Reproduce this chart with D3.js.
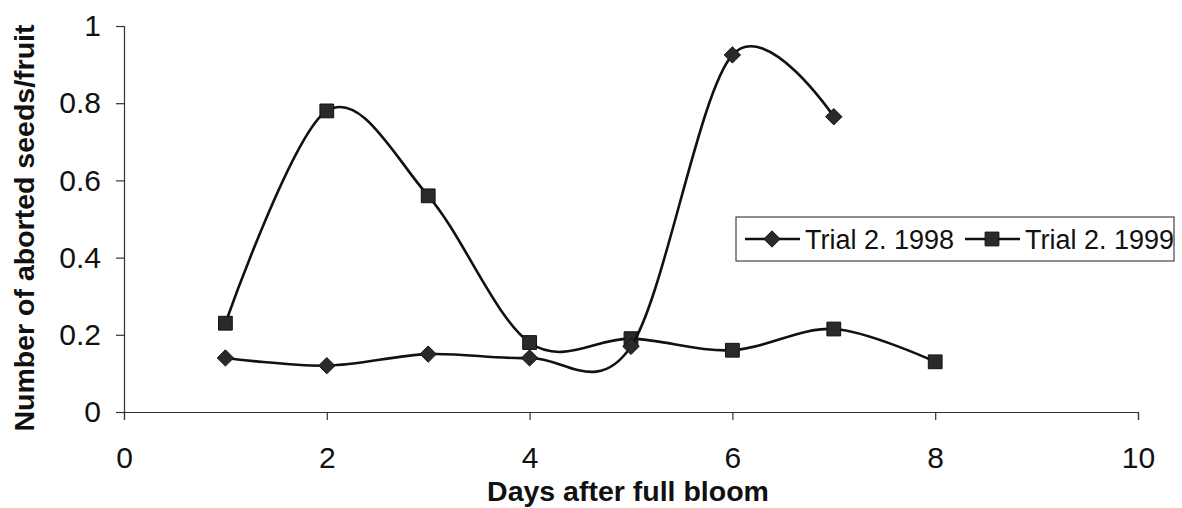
<!DOCTYPE html>
<html>
<head>
<meta charset="utf-8">
<script src="https://cdn.jsdelivr.net/npm/d3@7"></script>
<style>
  body { margin: 0; background: #fff; }
  text { font-family: "Liberation Sans", Arial, sans-serif; fill: #111; }
</style>
</head>
<body>
<div id="chart"></div>
<script>
const days1998 = [1, 2, 3, 4, 5, 6, 7];
const trial1998 = [0.14, 0.12, 0.15, 0.14, 0.17, 0.925, 0.765];
const days1999 = [1, 2, 3, 4, 5, 6, 7, 8];
const trial1999 = [0.23, 0.78, 0.56, 0.18, 0.19, 0.16, 0.215, 0.13];
const xTicks = [0, 2, 4, 6, 8, 10];
const yTicks = [0, 0.2, 0.4, 0.6, 0.8, 1];
const seriesNames = ["Trial 2. 1998", "Trial 2. 1999"];

const W = 1182, H = 508;
const margin = {top: 26, right: 44, bottom: 96, left: 124};

const svg = d3.select("#chart").append("svg")
    .attr("width", W)
    .attr("height", H);

const x = d3.scaleLinear().domain([0, 10]).range([margin.left, W - margin.right]);
const y = d3.scaleLinear().domain([0, 1]).range([H - margin.bottom, margin.top]);

// axes
const xAxis = svg.append("g")
    .attr("transform", `translate(0,${y(0)})`)
    .call(d3.axisBottom(x).tickValues(xTicks).tickSize(8).tickSizeOuter(8).tickPadding(27));
xAxis.selectAll("text").style("font-size", "30px");

const yAxis = svg.append("g")
    .attr("transform", `translate(${x(0)},0)`)
    .call(d3.axisLeft(y).tickValues(yTicks).tickFormat(d3.format("")).tickSize(8).tickSizeOuter(8).tickPadding(15));
yAxis.selectAll("text").style("font-size", "30px");
svg.selectAll(".domain, .tick line").attr("stroke", "#333").attr("stroke-width", 1.2);

// axis titles
svg.append("text")
    .attr("x", 628)
    .attr("y", 501)
    .attr("text-anchor", "middle")
    .style("font-size", "28.5px")
    .style("font-weight", "bold")
    .text("Days after full bloom");

svg.append("text")
    .attr("transform", `translate(34,228) rotate(-90)`)
    .attr("text-anchor", "middle")
    .style("font-size", "28.5px")
    .style("font-weight", "bold")
    .text("Number of aborted seeds/fruit");

// lines
const line = d3.line()
    .x(d => x(d[0]))
    .y(d => y(d[1]))
    .curve(d3.curveCardinal.tension(0));

const data1998 = days1998.map((d, i) => [d, trial1998[i]]);
const data1999 = days1999.map((d, i) => [d, trial1999[i]]);

const diamond = d3.symbol().type(d3.symbolDiamond2).size(170);
const square = d3.symbol().type(d3.symbolSquare).size(190);

function drawSeries(data, sym) {
    svg.append("path")
        .datum(data)
        .attr("fill", "none")
        .attr("stroke", "#111")
        .attr("stroke-width", 2.6)
        .attr("d", line);
    svg.append("g").selectAll("path")
        .data(data)
        .enter().append("path")
        .attr("transform", d => `translate(${x(d[0])},${y(d[1])})`)
        .attr("d", sym)
        .attr("fill", "#2a2a2a")
        .attr("stroke", "#111")
        .attr("stroke-width", 1);
}
drawSeries(data1999, square);
drawSeries(data1998, diamond);

// legend
const legend = svg.append("g");
legend.append("rect")
    .attr("x", 736).attr("y", 217)
    .attr("width", 438).attr("height", 44)
    .attr("fill", "#fff")
    .attr("stroke", "#444")
    .attr("stroke-width", 1.2);

const legendItems = [
    {name: seriesNames[0], sym: diamond, x0: 745},
    {name: seriesNames[1], sym: square, x0: 965}
];
legendItems.forEach(it => {
    legend.append("line")
        .attr("x1", it.x0).attr("x2", it.x0 + 55)
        .attr("y1", 239).attr("y2", 239)
        .attr("stroke", "#111").attr("stroke-width", 2.6);
    legend.append("path")
        .attr("transform", `translate(${it.x0 + 27},239)`)
        .attr("d", it.sym)
        .attr("fill", "#2a2a2a")
        .attr("stroke", "#111");
    legend.append("text")
        .attr("x", it.x0 + 60)
        .attr("y", 249)
        .style("font-size", "27px")
        .text(it.name);
});
</script>
</body>
</html>
